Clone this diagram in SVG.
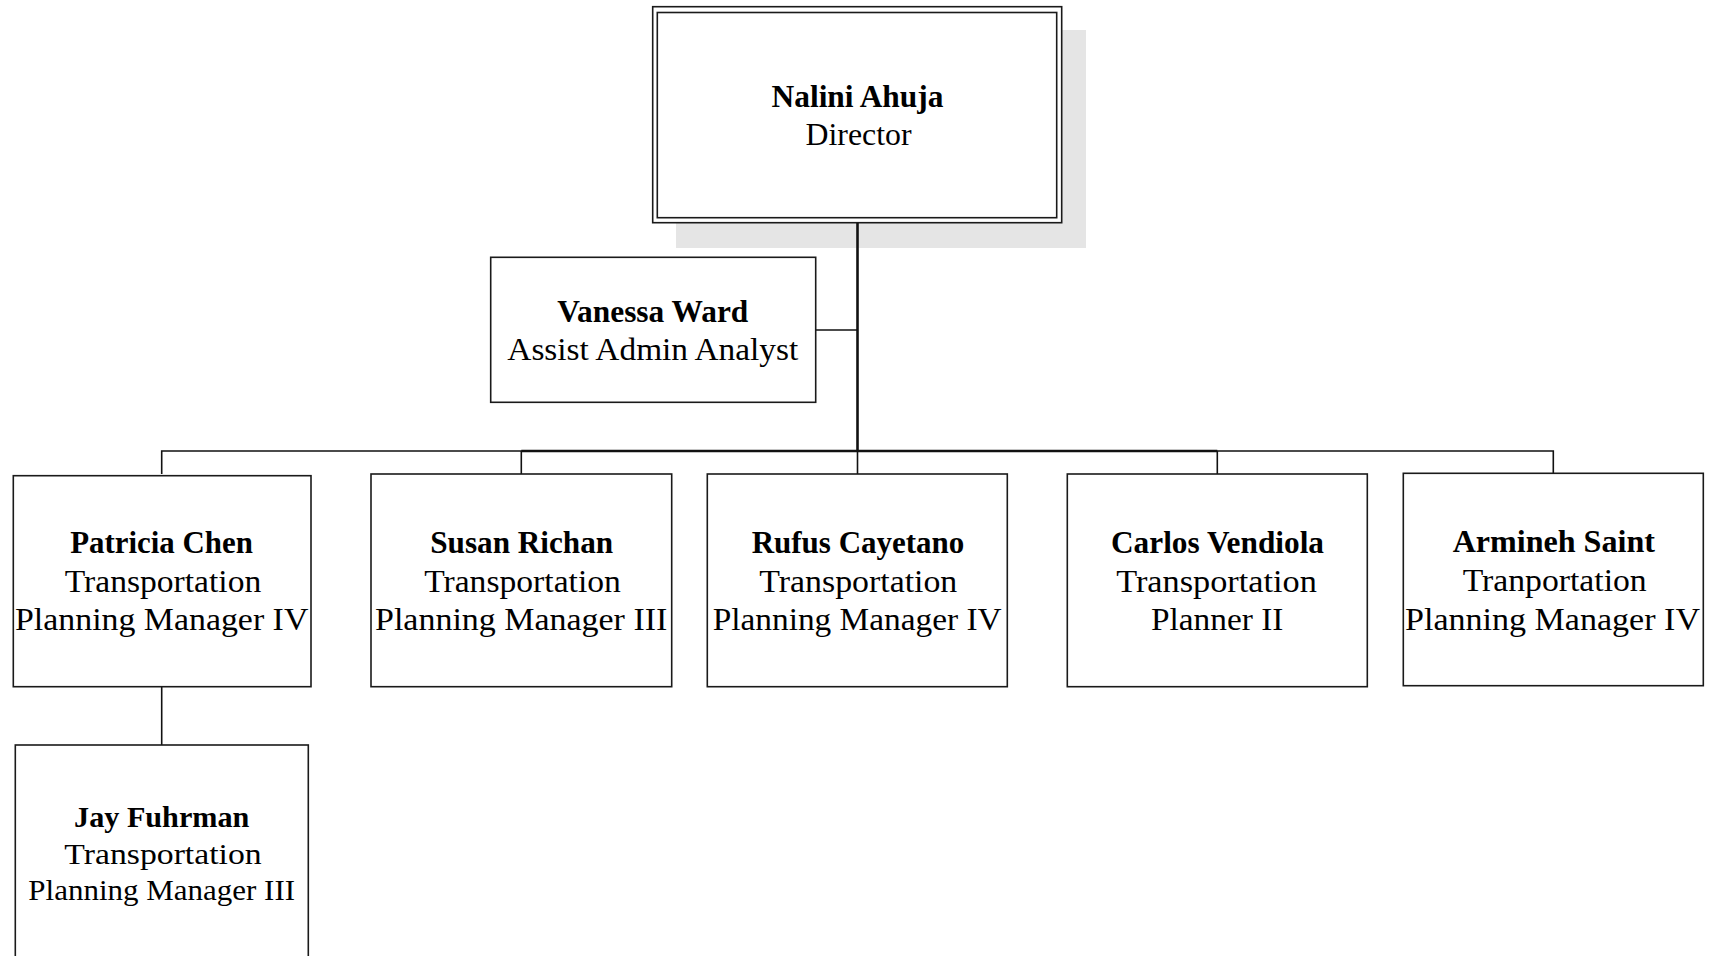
<svg xmlns="http://www.w3.org/2000/svg" width="1712" height="956" viewBox="0 0 1712 956">
<style>
.box{fill:#fff;stroke:#1a1a1a;stroke-width:1.6}
.ln{fill:none;stroke:#111;stroke-width:1.6}
.trunk{fill:none;stroke:#111;stroke-width:2.6}
text{font-family:"Liberation Serif","Times New Roman",serif;fill:#000;text-anchor:middle}
.nm{font-weight:bold;font-size:31px}
.tt{font-size:31px}
.sm{font-size:28.5px}
.smb{font-weight:bold;font-size:28.5px}
</style>
<rect width="1712" height="956" fill="#fff"/>
<g id="nalini">
<rect x="676" y="30" width="410" height="218" fill="#e5e5e5"/>
<rect class="box" x="652.7" y="6.7" width="409" height="216"/>
<rect class="box" x="657.3" y="12.5" width="399.4" height="205.2"/>
<text class="nm" x="857.5" y="106.5" textLength="172" lengthAdjust="spacingAndGlyphs">Nalini Ahuja</text>
<text class="tt" x="858.5" y="144.5" textLength="106" lengthAdjust="spacingAndGlyphs">Director</text>
</g>
<g id="connectors">
<path class="trunk" d="M857.5 223 V451"/>
<path class="ln" d="M815.7 330 H857.5"/>
<path class="ln" d="M161.7 474 V451 H1553.3 V473"/>
<path class="trunk" d="M521.3 451 H1217.3"/>
<path class="ln" d="M521.3 451 V474"/>
<path class="ln" d="M857.5 451 V474"/>
<path class="ln" d="M1217.3 451 V474"/>
<path class="ln" d="M161.7 687 V745"/>
</g>
<g id="vanessa">
<rect class="box" x="490.7" y="257.3" width="325" height="145"/>
<text class="nm" x="652.8" y="321.5" textLength="191" lengthAdjust="spacingAndGlyphs">Vanessa Ward</text>
<text class="tt" x="652.8" y="360" textLength="291" lengthAdjust="spacingAndGlyphs">Assist Admin Analyst</text>
</g>
<g id="patricia">
<rect class="box" x="13.3" y="475.7" width="297.7" height="211"/>
<text class="nm" x="161.5" y="552.5" textLength="182.7" lengthAdjust="spacingAndGlyphs">Patricia Chen</text>
<text class="tt" x="163" y="591.5" textLength="196.4" lengthAdjust="spacingAndGlyphs">Transportation</text>
<text class="tt" x="161.7" y="630" textLength="293.3" lengthAdjust="spacingAndGlyphs">Planning Manager IV</text>
</g>
<g id="susan">
<rect class="box" x="371" y="474" width="300.7" height="212.7"/>
<text class="nm" x="521.7" y="552.5" textLength="183" lengthAdjust="spacingAndGlyphs">Susan Richan</text>
<text class="tt" x="522.5" y="591.5" textLength="196.7" lengthAdjust="spacingAndGlyphs">Transportation</text>
<text class="tt" x="521.2" y="630" textLength="292.3" lengthAdjust="spacingAndGlyphs">Planning Manager III</text>
</g>
<g id="rufus">
<rect class="box" x="707.3" y="474" width="300" height="212.7"/>
<text class="nm" x="858" y="552.5" textLength="212.7" lengthAdjust="spacingAndGlyphs">Rufus Cayetano</text>
<text class="tt" x="858.3" y="591.5" textLength="198" lengthAdjust="spacingAndGlyphs">Transportation</text>
<text class="tt" x="857.2" y="630" textLength="289" lengthAdjust="spacingAndGlyphs">Planning Manager IV</text>
</g>
<g id="carlos">
<rect class="box" x="1067.3" y="474" width="300" height="212.7"/>
<text class="nm" x="1217.5" y="552.5" textLength="213" lengthAdjust="spacingAndGlyphs">Carlos Vendiola</text>
<text class="tt" x="1216.5" y="591.5" textLength="200.7" lengthAdjust="spacingAndGlyphs">Transportation</text>
<text class="tt" x="1217.2" y="629.5" textLength="132.3" lengthAdjust="spacingAndGlyphs">Planner II</text>
</g>
<g id="armineh">
<rect class="box" x="1403.3" y="473.3" width="300" height="212.4"/>
<text class="nm" x="1553.8" y="551.5" textLength="202.3" lengthAdjust="spacingAndGlyphs">Armineh Saint</text>
<text class="tt" x="1554.7" y="590.5" textLength="184" lengthAdjust="spacingAndGlyphs">Tranportation</text>
<text class="tt" x="1552.5" y="629.5" textLength="295" lengthAdjust="spacingAndGlyphs">Planning Manager IV</text>
</g>
<g id="jay">
<rect class="box" x="15.3" y="745" width="293" height="240"/>
<text class="smb" x="161.7" y="826.5" textLength="175.3" lengthAdjust="spacingAndGlyphs">Jay Fuhrman</text>
<text class="sm" x="163" y="863.5" textLength="197.3" lengthAdjust="spacingAndGlyphs">Transportation</text>
<text class="sm" x="161.7" y="899.5" textLength="266.7" lengthAdjust="spacingAndGlyphs">Planning Manager III</text>
</g>
</svg>
